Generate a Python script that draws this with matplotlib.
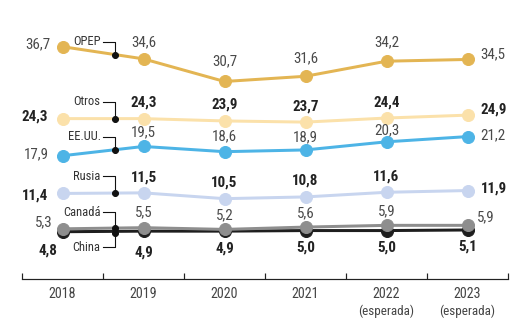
import matplotlib
matplotlib.use("Agg")
import matplotlib.pyplot as plt
from matplotlib import font_manager
from matplotlib.transforms import ScaledTranslation
import numpy as np

years = ["2018", "2019", "2020", "2021", "2022\n(esperada)", "2023\n(esperada)"]
opep = [36.7, 34.6, 30.7, 31.6, 34.2, 34.5]
otros = [24.3, 24.3, 23.9, 23.7, 24.4, 24.9]
eeuu = [17.9, 19.5, 18.6, 18.9, 20.3, 21.2]
rusia = [11.4, 11.5, 10.5, 10.8, 11.6, 11.9]
canada = [5.3, 5.5, 5.2, 5.6, 5.9, 5.9]
china = [4.8, 4.9, 4.9, 5.0, 5.0, 5.1]
names = ["OPEP", "Otros", "EE.UU.", "Rusia", "Canadá", "China"]

avail = {f.name for f in font_manager.fontManager.ttflist}
fam = None
for c in ["Liberation Sans Narrow", "DejaVu Sans Condensed", "Roboto Condensed", "Open Sans Condensed", "Liberation Sans"]:
    if c in avail:
        fam = c
        break
plt.rcParams['font.family'] = [fam, 'DejaVu Sans'] if fam else ['DejaVu Sans']

DPI = 72
fig = plt.figure(figsize=(520 / DPI, 318 / DPI), dpi=DPI)
ax = fig.add_axes([22 / 520, (318 - 279) / 318, 486 / 520, 279 / 318])
ax.set_xlim(-0.5, 5.5)
ax.set_ylim(-3.35, 44.75)

x = np.arange(len(years))
series = [
    (opep, "#E3B553"),
    (otros, "#FBE1AA"),
    (eeuu, "#4DB4E6"),
    (rusia, "#C8D5EF"),
    (china, "#1E1E1E"),
    (canada, "#8E8E8E"),
]
z = 3
for vals, col in series:
    ax.plot(x, vals, color=col, lw=3, marker="o", ms=12, mec=col, mfc=col,
            zorder=z, solid_capstyle="round")
    z += 1

def off(dx, dy):
    return ax.transData + ScaledTranslation(dx / DPI, dy / DPI, fig.dpi_scale_trans)

def lab(vals, offsets, bold, tcol):
    for i, v in enumerate(vals):
        dx, dy, ha = offsets[i]
        ax.text(i, v, f"{v:.1f}".replace(".", ","), transform=off(dx, dy),
                ha=ha, va="center", fontsize=15,
                fontweight="bold" if bold else "normal", color=tcol, zorder=20)

lab(opep, [(-12, 2, "right"), (0, 17, "center"), (0, 20, "center"),
           (0, 18, "center"), (0, 19, "center"), (13, 5, "left")], False, "#4a4a4a")
lab(otros, [(-14, 2, "right"), (0, 16, "center"), (0, 16, "center"),
            (0, 16, "center"), (0, 16, "center"), (13, 6, "left")], True, "#222222")
lab(eeuu, [(-14, 1, "right"), (0, 14, "center"), (0, 15, "center"),
           (0, 13, "center"), (0, 12, "center"), (13, 1, "left")], False, "#4a4a4a")
lab(rusia, [(-14, -2, "right"), (0, 15, "center"), (0, 16, "center"),
            (0, 16, "center"), (0, 16, "center"), (13, 2, "left")], True, "#222222")
lab(canada, [(-19, 7, "center"), (0, 15, "center"), (0, 14, "center"),
             (0, 14, "center"), (0, 14, "center"), (18, 8, "center")], False, "#4a4a4a")
lab(china, [(-15, -19, "center"), (0, -21, "center"), (0, -17, "center"),
            (0, -17, "center"), (0, -17, "center"), (0, -17, "center")], True, "#222222")

# series name labels with connectors
xd = 0.645
def interp(vals):
    return vals[0] + xd * (vals[1] - vals[0])

conn = [(opep, 0, 13), (otros, 0, 17), (eeuu, 0, 13), (rusia, 0, 17), (canada, 0, 16), (china, -2, -16)]
inv = fig.transFigure.inverted()
for (vals, dyd, dyl), name in zip(conn, names):
    yv = interp(vals)
    ax.plot([xd], [yv], transform=off(0, dyd), marker="o", ms=6,
            color="#111111", zorder=25, lw=0)
    p0 = off(0, dyd).transform((xd, yv))
    p1 = off(0, dyl).transform((xd, yv))
    p2 = off(-12, dyl).transform((xd, yv))
    q = inv.transform(np.array([p0, p1, p2]))
    fig.add_artist(plt.Line2D(q[:, 0], q[:, 1], color="#111111", lw=1.1, zorder=25))
    ax.text(xd, yv, name, transform=off(-14, dyl), ha="right", va="center",
            fontsize=12.5, color="#333333", zorder=25)

for s in ["top", "right", "left"]:
    ax.spines[s].set_visible(False)
ax.spines["bottom"].set_color("#222222")
ax.spines["bottom"].set_linewidth(1.2)
ax.set_yticks([])
ax.set_xticks(np.arange(-0.5, 6.0, 1.0))
ax.set_xticklabels([])
ax.tick_params(axis="x", direction="in", length=6, width=1.2, color="#222222")
for i, y in enumerate(years):
    parts = y.split("\n")
    ax.text(i, -3.35, parts[0], transform=off(0, -15), ha="center", va="center",
            fontsize=14, color="#444444", clip_on=False)
    if len(parts) > 1:
        ax.text(i, -3.35, parts[1], transform=off(0, -32), ha="center", va="center",
                fontsize=13, color="#444444", clip_on=False)

fig.savefig("out.png", dpi=DPI, facecolor="white")
